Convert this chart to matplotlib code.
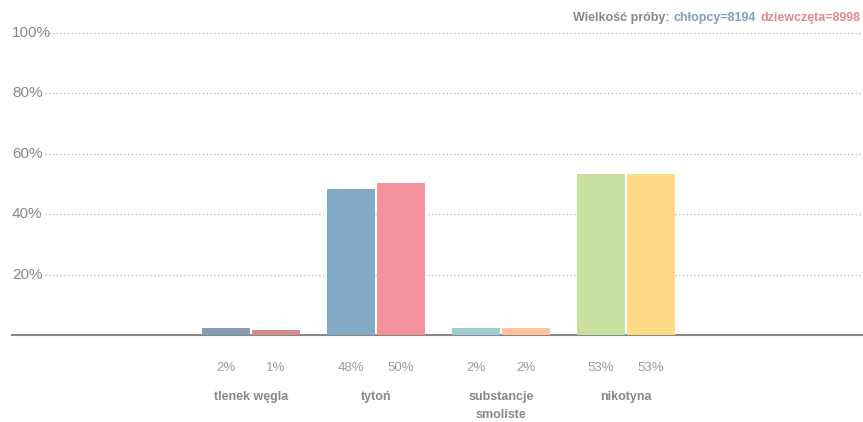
import matplotlib

matplotlib.use("Agg")
import matplotlib.pyplot as plt
import matplotlib.transforms as mtransforms
import numpy as np

# data
categories = ["tlenek węgla", "tytoń", "substancje\nsmoliste", "nikotyna"]
boys = [2.3, 48.4, 2.3, 53.4]
girls = [1.6, 50.4, 2.3, 53.4]
boys_labels = ["2%", "48%", "2%", "53%"]
girls_labels = ["1%", "50%", "2%", "53%"]
boys_colors = ["#849bb2", "#82aac4", "#9fcdd3", "#c8df9f"]
girls_colors = ["#d38d8d", "#f2939b", "#fdc39d", "#ffda87"]
yticks = [20, 40, 60, 80, 100]
n_boys, n_girls = 8194, 8998

grey = "#888888"
plt.rcParams["font.family"] = ["Liberation Sans", "DejaVu Sans"]

fig = plt.figure(figsize=(8.63, 4.22), dpi=100)
ax = fig.add_axes([12 / 863, 87 / 422, 851 / 863, 302 / 422])

x = np.arange(len(categories))
w = 0.384
gap = 0.008
ax.bar(x - w / 2 - gap, boys, width=w, color=boys_colors, zorder=3)
ax.bar(x + w / 2 + gap, girls, width=w, color=girls_colors, zorder=3)

ax.set_xlim(-1.912, 4.896)
ax.set_ylim(0, 100)

# dotted gridlines starting a bit right of the labels
trans = mtransforms.blended_transform_factory(ax.transAxes, ax.transData)
for t in yticks:
    ax.axhline(t, xmin=0.039, xmax=1, color="#b0b0b0", lw=0.9, ls=(0, (1, 2)), zorder=1)
    ax.text(0, t, f"{t}%", transform=trans, ha="left", va="center",
            fontsize=11, color=grey)

for s in ["top", "right", "left"]:
    ax.spines[s].set_visible(False)
ax.spines["bottom"].set_color(grey)
ax.spines["bottom"].set_linewidth(1.5)
ax.set_xticks([])
ax.set_yticks([])

for i in range(len(categories)):
    ax.text(x[i] - w / 2 - gap, -10.8, boys_labels[i], ha="center", va="center",
            fontsize=9.5, color="#9a9a9a", clip_on=False)
    ax.text(x[i] + w / 2 + gap, -10.8, girls_labels[i], ha="center", va="center",
            fontsize=9.5, color="#9a9a9a", clip_on=False)
    ax.text(x[i], -18.7, categories[i], ha="center", va="top", fontsize=9,
            fontweight="bold", color="#888888", clip_on=False, linespacing=1.6)

# sample size note in the top right, built right to left
y_note = 1 - 18 / 422
t3 = fig.text(860 / 863, y_note, f"dziewczęta={n_girls}", ha="right", va="center",
              fontsize=9, fontweight="bold", color="#e08a8a")
fig.canvas.draw()
x_left = t3.get_window_extent().x0 - 4
t2 = fig.text(x_left / 863, y_note, f"chłopcy={n_boys}", ha="right", va="center",
              fontsize=9, fontweight="bold", color="#7f9fbf")
fig.canvas.draw()
x_left = t2.get_window_extent().x0 - 4
fig.text(x_left / 863, y_note, "Wielkość próby:", ha="right", va="center",
         fontsize=9, fontweight="bold", color=grey)

fig.savefig("out.png", dpi=100)
